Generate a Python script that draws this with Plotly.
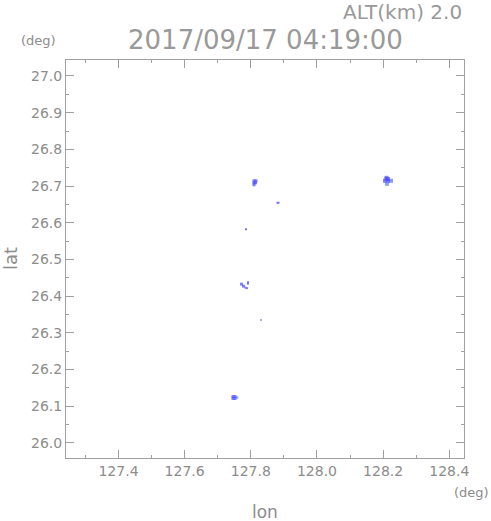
import plotly.graph_objects as go

# Echo cells (lon, lat)
lon = [128.2102, 128.2056, 128.2147, 128.2238, 128.2117, 128.2102, 128.2147,
       127.8096, 127.8157, 127.8096, 127.8096, 127.8141,
       127.8807, 127.8837,
       127.7854,
       127.7718, 127.7779, 127.7839, 127.7885, 127.7915, 127.7915,
       127.8308,
       127.7461, 127.7522, 127.7461, 127.7522, 127.7582]
lat = [26.7224, 26.7143, 26.7143, 26.7143, 26.7061, 26.7190, 26.7190,
       26.7143, 26.7143, 26.7088, 26.7034, 26.7088,
       26.6544, 26.6544,
       26.5823,
       26.4327, 26.4272, 26.4231, 26.4218, 26.4340, 26.4381,
       26.3347,
       26.1265, 26.1265, 26.1211, 26.1211, 26.1238]
colors = ["#5050ff", "#5050ff", "#5050ff", "#5a6cff", "#5a7cff", "#5050ff", "#5050ff",
          "#4a4aff", "#4a4aff", "#4a4aff", "#4a4aff", "#4a4aff",
          "#4a4aff", "#4a4aff",
          "#3a3ad0",
          "#4a4aff", "#4a4aff", "#4a4aff", "#4a4aff", "#4a4aff", "#4a4aff",
          "#5030a0",
          "#4a4aff", "#4a4aff", "#4a4aff", "#4a4aff", "#5a7cff"]
sizes = [4, 4, 4, 4, 4, 4, 4,
         3, 3, 3, 3, 3,
         2, 2,
         2,
         3, 3, 2, 2, 2, 2,
         1.5,
         3, 3, 3, 3, 2.5]

title_text = "2017/09/17 04:19:00"
alt_text = "ALT(km) 2.0"

gray = "#8c8c8c"
light = "#999999"
font = "DejaVu Sans"

fig = go.Figure()
fig.add_trace(go.Scatter(
    x=lon, y=lat, mode="markers",
    marker=dict(symbol="square", size=sizes, color=colors, line=dict(width=0)),
    hoverinfo="skip", showlegend=False))

axis_common = dict(
    showgrid=False, zeroline=False, showline=True, linecolor="#a0a0a0", linewidth=1,
    mirror="ticks", ticks="inside", ticklen=8, tickcolor="#a0a0a0", tickwidth=1,
    tickformat=".1f", tickfont=dict(family=font, size=14, color=gray),
)
fig.update_xaxes(range=[127.2413, 128.4444], tick0=127.4, dtick=0.2,
                 minor=dict(dtick=0.1, tick0=127.3, ticks="inside", ticklen=3,
                            tickcolor="#a0a0a0"),
                 **axis_common)
fig.update_yaxes(range=[25.959, 27.0435], tick0=26.0, dtick=0.1,
                 minor=dict(dtick=0.05, tick0=25.95, ticks="inside", ticklen=3,
                            tickcolor="#a0a0a0"),
                 **axis_common)

fig.update_layout(
    width=491, height=521, autosize=False,
    margin=dict(l=66, r=27, t=60, b=63),
    plot_bgcolor="white", paper_bgcolor="white",
    font=dict(family=font, color=gray),
    annotations=[
        dict(text=title_text, xref="paper", yref="paper", x=0.5, y=1.0,
             yshift=20, xanchor="center", yanchor="middle", showarrow=False,
             font=dict(size=26, color=light, family=font)),
        dict(text=alt_text, xref="paper", yref="paper", x=1.0, y=1.0,
             yshift=48, xanchor="right", yanchor="middle", showarrow=False,
             font=dict(size=20, color=light, family=font)),
        dict(text="(deg)", xref="paper", yref="paper", x=0.0, y=1.0,
             xshift=-28, yshift=20, xanchor="center", yanchor="middle", showarrow=False,
             font=dict(size=13, color=gray, family=font)),
        dict(text="(deg)", xref="paper", yref="paper", x=1.0, y=0.0,
             xshift=7, yshift=-34, xanchor="center", yanchor="middle", showarrow=False,
             font=dict(size=13, color=gray, family=font)),
        dict(text="lon", xref="paper", yref="paper", x=0.5, y=0.0,
             yshift=-54, xanchor="center", yanchor="middle", showarrow=False,
             font=dict(size=17, color=gray, family=font)),
        dict(text="lat", xref="paper", yref="paper", x=0.0, y=0.5,
             xshift=-56, xanchor="center", yanchor="middle", showarrow=False,
             textangle=-90, font=dict(size=18, color=gray, family=font)),
    ],
)

fig.write_html("out.html",
               config={"displayModeBar": False},
               post_script="document.body.style.margin='0';document.body.style.overflow='hidden';")
